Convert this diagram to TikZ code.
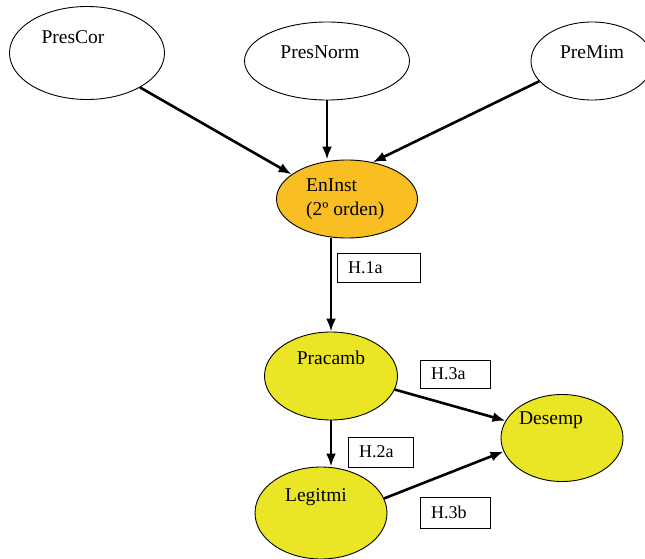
\documentclass[tikz,border=0pt]{standalone}
\usepackage{fontspec}
\setmainfont{Liberation Serif}
\usetikzlibrary{shapes.geometric,arrows.meta}
\definecolor{orangefill}{RGB}{248,190,34}
\definecolor{yellowfill}{RGB}{234,230,38}
\tikzset{
  ell/.style={ellipse, draw=black, line width=0.9pt, inner sep=0pt},
  txt/.style={inner sep=0pt, font=\fontsize{19.5}{24}\selectfont},
  hbox/.style={draw=black, line width=0.9pt, inner xsep=11pt, inner ysep=0pt, align=left, anchor=center,
     font=\fontsize{18}{20}\selectfont},
  conn/.style={line width=2.6pt, -{Latex[length=13pt,width=10pt]}}
}
\begin{document}
\begin{tikzpicture}[x=1pt,y=-1pt]
\useasboundingbox (0,0) rectangle (645,559);
% ellipses
\node[ell, minimum width=155, minimum height=93] (PresCor) at (87,53) {};
\node[ell, minimum width=165, minimum height=78] (PresNorm) at (327,61) {};
\node[ell, minimum width=122, minimum height=78] (PreMim) at (592,61) {};
\node[ell, fill=orangefill, minimum width=141, minimum height=78] (EnInst) at (347,199) {};
\node[ell, fill=yellowfill, minimum width=133, minimum height=88] (Pracamb) at (331,376) {};
\node[ell, fill=yellowfill, minimum width=132, minimum height=92] (Legitmi) at (321,513) {};
\node[ell, fill=yellowfill, minimum width=122, minimum height=87] (Desemp) at (562,438) {};
% texts
\node[txt] (tPresCor) at (73,37) {PresCor};
\node[txt] (tPresNorm) at (320,52) {PresNorm};
\node[txt] (tPreMim) at (592,52) {PreMim};
\node[txt, align=left, anchor=west] (tEnInst) at (306,199) {EnInst\\(2º orden)};
\node[txt] (tPracamb) at (331,358) {Pracamb};
\node[txt] (tLegitmi) at (316,497) {Legitmi};
\node[txt] (tDesemp) at (551,420) {Desemp};
% label boxes
\node[hbox, text width=61, minimum height=29] (h1a) at (378.5,267.5) {H.1a};
\node[hbox, text width=48, minimum height=28] (h3a) at (455,374) {H.3a};
\node[hbox, text width=43, minimum height=30] (h2a) at (380.5,452) {H.2a};
\node[hbox, text width=48, minimum height=31] (h3b) at (455,512.5) {H.3b};
% connectors
\draw[conn] (PresCor.327) -- (EnInst.156);
\draw[conn] (PresNorm.south) -- (PresNorm.south |- EnInst.north);
\draw[conn] (PreMim.201) -- (EnInst.55);
\draw[conn] (Pracamb.north |- EnInst.south) -- (Pracamb.north);
\draw[conn] (Pracamb.south) -- (Pracamb.south |- Legitmi.north);
\draw[conn] (Pracamb.348) -- (Desemp.163);
\draw[conn] (Legitmi.13) -- (Desemp.193);
\end{tikzpicture}
\end{document}
